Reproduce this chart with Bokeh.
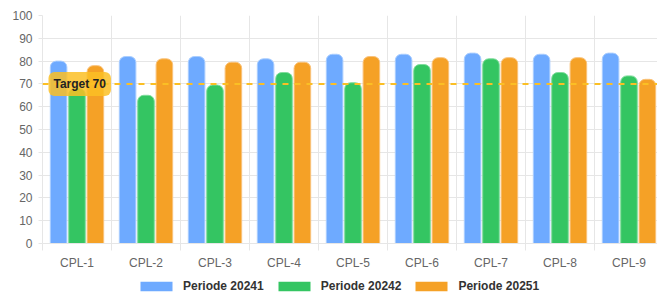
from bokeh.plotting import figure
from bokeh.models import (Range1d, FixedTicker, Span, Label, Legend, LegendItem,
                          ColumnDataSource)
from bokeh.layouts import column
from bokeh.transform import dodge
from bokeh.embed import file_html
from bokeh.resources import INLINE

# ---- data ----
categories = ["CPL-1", "CPL-2", "CPL-3", "CPL-4", "CPL-5", "CPL-6", "CPL-7", "CPL-8", "CPL-9"]
series_names = ["Periode 20241", "Periode 20242", "Periode 20251"]
periode_20241 = [80, 82, 82, 81, 83, 83, 83.5, 83, 83.5]
periode_20242 = [68, 65, 69.5, 75, 70.5, 78.5, 81, 75, 73.5]
periode_20251 = [78, 81, 79.5, 79.5, 82, 81.5, 81.5, 81.5, 72]
target_value = 70
target_label = "Target 70"
y_ticks = [0, 10, 20, 30, 40, 50, 60, 70, 80, 90, 100]

colors = ["#6eaaff", "#34c562", "#f5a126"]
edge_colors = ["#a9cdff", "#7fdc9c", "#f9c27a"]

FONT = "Liberation Sans"
GRID = "#e6e6e6"

W = 657
H_MAIN, H_LEG = 272, 24
LEFT, TOP = 42, 15
BOTTOM = H_MAIN - 243
CAT_PX = 69.0
n_visible = (W - LEFT) / CAT_PX

centers = [i + 0.5 for i in range(len(categories))]
src = ColumnDataSource(dict(x=centers, cat=categories,
                            s1=periode_20241, s2=periode_20242, s3=periode_20251))

p = figure(width=W, height=H_MAIN, output_backend="svg", toolbar_location=None,
           x_range=Range1d(0, n_visible), y_range=Range1d(0, 100),
           min_border_left=LEFT, min_border_right=0, min_border_top=TOP,
           min_border_bottom=BOTTOM)
p.outline_line_color = None
p.background_fill_color = "white"
p.border_fill_color = "white"

# bars
slot = 0.8 / 3
bar_w = slot * 0.9
offsets = [-slot, 0, slot]
keys = ["s1", "s2", "s3"]
for key, off, c, ec in zip(keys, offsets, colors, edge_colors):
    p.vbar(x=dodge("x", off), top=key, bottom=0, width=bar_w, source=src,
           fill_color=c, line_color=ec, line_width=1,
           border_radius=(6, 6, 0, 0))

# grids
p.xgrid.ticker = FixedTicker(ticks=list(range(len(categories) + 1)))
p.xgrid.grid_line_color = GRID
p.ygrid.ticker = FixedTicker(ticks=y_ticks)
p.ygrid.grid_line_color = GRID

# x axis
xa = p.xaxis[0]
xa.ticker = FixedTicker(ticks=centers, minor_ticks=list(range(len(categories) + 1)))
xa.major_label_overrides = {c: lab for c, lab in zip(centers, categories)}
xa.major_tick_line_color = None
xa.major_tick_out = 0
xa.major_tick_in = 0
xa.minor_tick_line_color = GRID
xa.minor_tick_out = 7
xa.minor_tick_in = 0
xa.axis_line_color = GRID
xa.major_label_standoff = 5
xa.major_label_text_font = FONT
xa.major_label_text_font_size = "12px"
xa.major_label_text_color = "#666666"

# y axis
ya = p.yaxis[0]
ya.ticker = FixedTicker(ticks=y_ticks)
ya.axis_line_color = GRID
ya.major_tick_line_color = GRID
ya.major_tick_out = 4
ya.major_tick_in = 0
ya.minor_tick_line_color = None
ya.major_label_standoff = 6
ya.major_label_text_font = FONT
ya.major_label_text_font_size = "12px"
ya.major_label_text_color = "#666666"

# target line + label
p.add_layout(Span(location=target_value, dimension="width", line_color="#fbbf24",
                  line_width=2, line_dash="6 6"))
p.add_layout(Label(x=6 / CAT_PX, y=target_value, text=target_label,
                   text_baseline="middle", text_align="left",
                   text_font=FONT, text_font_style="bold", text_font_size="12px",
                   text_color="#222222",
                   background_fill_color="#fbbf24", background_fill_alpha=0.85,
                   padding=5, border_radius=6))

# legend strip (separate figure under the chart, frame aligned with the chart's frame)
pl = figure(width=W, height=H_LEG, output_backend="svg", toolbar_location=None,
            x_axis_type=None, y_axis_type=None,
            x_range=Range1d(0, n_visible), y_range=Range1d(0, 100),
            min_border=0, min_border_left=0, min_border_right=0,
            min_border_top=0, min_border_bottom=0)
pl.outline_line_color = None
pl.grid.visible = False
pl.border_fill_color = "white"
pl.background_fill_color = "white"
leg_renderers = []
for key, off, c in zip(keys, offsets, colors):
    leg_renderers.append(pl.vbar(x=dodge("x", off), top=key, width=bar_w, source=src,
                                 fill_color=c, line_color=None, visible=False))

legend = Legend(items=[LegendItem(label=n, renderers=[r]) for n, r in zip(series_names, leg_renderers)],
                orientation="horizontal", location=(136 - LEFT, 3),
                glyph_width=40, glyph_height=12, label_height=12, label_standoff=7,
                spacing=10, padding=0, margin=0,
                label_text_font=FONT, label_text_font_style="bold",
                label_text_font_size="12px", label_text_color="#333333",
                inactive_fill_alpha=0,
                border_line_color=None, background_fill_alpha=0)
pl.add_layout(legend, "center")

layout = column(p, pl, spacing=0)
open("out.html", "w").write(file_html(layout, INLINE))
